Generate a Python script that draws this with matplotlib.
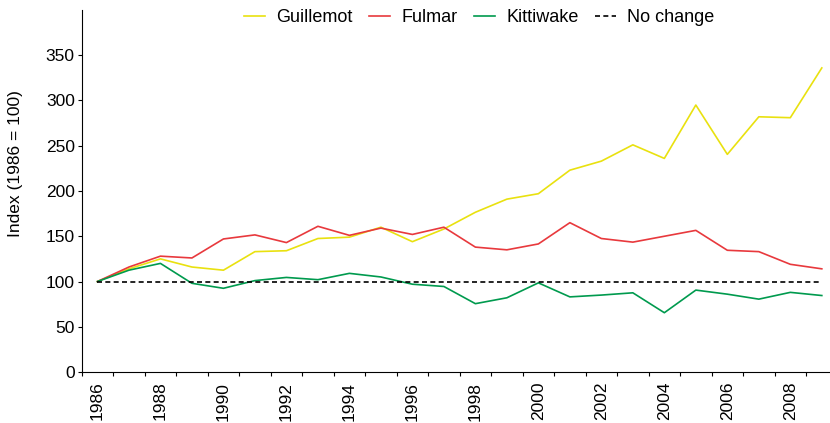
import matplotlib
matplotlib.use("Agg")
import matplotlib.pyplot as plt
import numpy as np

years = list(range(1986, 2010))
guillemot = [100, 114, 125, 116, 112.5, 133, 134, 147.5, 149, 160, 144, 158,
             176.5, 191, 197, 223, 233, 251, 236, 295, 240.5, 282, 281, 336]
fulmar = [100, 116, 128, 126, 147, 151.5, 143, 161, 151, 159, 152, 160,
          138, 135, 141.5, 165, 147.5, 143.5, 150, 156.5, 134.5, 133, 119, 114]
kittiwake = [100, 112.5, 120, 98, 92.5, 101, 104.5, 102, 109, 105, 97, 94.5,
             75.5, 82, 98.5, 83, 85, 87.5, 65.5, 90.5, 86, 80.5, 88, 84.5]
baseline = [100] * len(years)
yticks = [0, 50, 100, 150, 200, 250, 300, 350]

plt.rcParams['font.family'] = ['Liberation Sans', 'DejaVu Sans']

fig = plt.figure(figsize=(8.30, 4.23), dpi=100)
ax = fig.add_axes([81.7 / 830, 1 - 372 / 423, 1 - 81.7 / 830, (372 - 10) / 423])

x = np.arange(len(years))
ax.plot(x, guillemot, color='#e9e10f', lw=1.2, label='Guillemot')
ax.plot(x, fulmar, color='#e8393d', lw=1.2, label='Fulmar')
ax.plot(x, kittiwake, color='#009a4e', lw=1.2, label='Kittiwake')
ax.plot(x, baseline, color='black', lw=1.2, linestyle=(0, (3, 2)), label='No change')

ax.set_xlim(-0.5, 23.26)
ax.set_ylim(0, 400)
ax.set_yticks(yticks)
ax.tick_params(axis='y', labelsize=12.5, length=3, width=0.8, direction='out', pad=2)

ax.set_xticks(np.arange(-0.5, 23.5, 1.0))
ax.set_xticklabels([])
ax.tick_params(axis='x', which='major', length=3, width=0.8, direction='out')
ax.set_xticks(x[::2], minor=True)
ax.set_xticklabels([str(y) for y in years[::2]], minor=True, rotation=90, fontsize=12.5)
ax.tick_params(axis='x', which='minor', length=0, pad=7)

for s in ['top', 'right']:
    ax.spines[s].set_visible(False)
for s in ['left', 'bottom']:
    ax.spines[s].set_linewidth(0.8)

ax.set_ylabel('Index (1986 = 100)', fontsize=12.5)
ax.yaxis.set_label_coords(-0.0785, 0.577)

fig.legend(loc='center', bbox_to_anchor=(479 / 830, 1 - 18 / 423), ncol=4,
           frameon=False, fontsize=13, handlelength=1.2, handletextpad=0.6,
           columnspacing=0.9, borderaxespad=0)

fig.savefig('out.png', dpi=100)
